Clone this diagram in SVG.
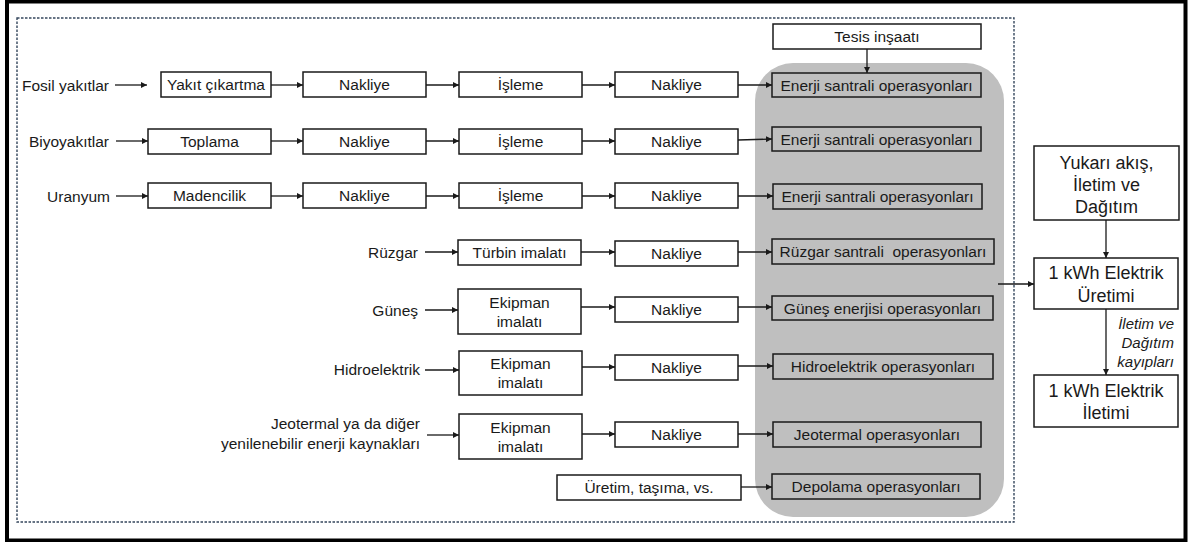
<svg xmlns="http://www.w3.org/2000/svg" width="1193" height="542" viewBox="0 0 1193 542">
  <style>
    text { font-family: "Liberation Sans", Arial, sans-serif; font-size: 15.5px; fill: #1a1a1a; }
    .c { text-anchor: middle; }
    .r { text-anchor: end; }
    .big { font-size: 18px; }
    .it { font-style: italic; font-size: 15px; text-anchor: end; }
    .box { fill: #ffffff; stroke: #1a1a1a; stroke-width: 1.5; }
    .op { fill: none; stroke: #1a1a1a; stroke-width: 1.5; }
    .link { fill: none; stroke: #1a1a1a; stroke-width: 1.3; marker-end: url(#head); }
  </style>
  <defs>
    <marker id="head" markerUnits="userSpaceOnUse" markerWidth="7" markerHeight="6" refX="6" refY="3" orient="auto">
      <path d="M0,0 L6,3 L0,6 Z" fill="#1a1a1a"/>
    </marker>
  </defs>

  <!-- frame and system boundary -->
  <rect x="7" y="1.5" width="1178.5" height="539" fill="#ffffff" stroke="#000000" stroke-width="4"/>
  <rect x="17" y="18" width="997" height="504" fill="none" stroke="#34465c" stroke-width="1.4" stroke-dasharray="2.5 1.5"/>
  <rect id="operations-area" x="755" y="63" width="249" height="454" rx="38" ry="38" fill="#bfbfbf"/>

  <!-- source labels -->
  <g id="label-fosil"><text class="r" x="109" y="90.5">Fosil yakıtlar</text></g>
  <g id="label-biyo"><text class="r" x="109" y="146.5">Biyoyakıtlar</text></g>
  <g id="label-uranyum"><text class="r" x="110" y="201.5">Uranyum</text></g>
  <g id="label-ruzgar"><text class="r" x="418" y="257.5">Rüzgar</text></g>
  <g id="label-gunes"><text class="r" x="418" y="315.5">Güneş</text></g>
  <g id="label-hidro"><text class="r" x="420" y="374.5">Hidroelektrik</text></g>
  <g id="label-jeotermal">
    <text class="r" x="420" y="428.5">Jeotermal ya da diğer</text>
    <text class="r" x="420" y="448.5">yenilenebilir enerji kaynakları</text>
  </g>

  <!-- row 1: fossil fuels -->
  <g id="yakit-cikartma"><rect class="box" x="161" y="72" width="110" height="25"/><text class="c" x="216" y="90">Yakıt çıkartma</text></g>
  <g id="nakliye-1a"><rect class="box" x="303" y="72" width="123" height="25"/><text class="c" x="364.5" y="90">Nakliye</text></g>
  <g id="isleme-1"><rect class="box" x="459" y="72" width="123" height="25"/><text class="c" x="520.5" y="90">İşleme</text></g>
  <g id="nakliye-1b"><rect class="box" x="615" y="72" width="123" height="25"/><text class="c" x="676.5" y="90">Nakliye</text></g>
  <g id="enerji-1"><rect class="op" x="772" y="73" width="209" height="24"/><text class="c" x="876.5" y="90.5">Enerji santrali operasyonları</text></g>
  <g id="tesis"><rect class="box" x="773" y="24" width="208" height="25"/><text class="c" x="877" y="42">Tesis inşaatı</text></g>

  <!-- row 2: biofuels -->
  <g id="toplama"><rect class="box" x="148" y="129" width="123" height="25"/><text class="c" x="209.5" y="147">Toplama</text></g>
  <g id="nakliye-2a"><rect class="box" x="303" y="129" width="123" height="25"/><text class="c" x="364.5" y="147">Nakliye</text></g>
  <g id="isleme-2"><rect class="box" x="459" y="129" width="123" height="25"/><text class="c" x="520.5" y="147">İşleme</text></g>
  <g id="nakliye-2b"><rect class="box" x="615" y="129" width="123" height="25"/><text class="c" x="676.5" y="147">Nakliye</text></g>
  <g id="enerji-2"><rect class="op" x="772" y="127" width="209" height="24"/><text class="c" x="876.5" y="144.5">Enerji santrali operasyonları</text></g>

  <!-- row 3: uranium -->
  <g id="madencilik"><rect class="box" x="148" y="183" width="123" height="25"/><text class="c" x="209.5" y="201">Madencilik</text></g>
  <g id="nakliye-3a"><rect class="box" x="303" y="183" width="123" height="25"/><text class="c" x="364.5" y="201">Nakliye</text></g>
  <g id="isleme-3"><rect class="box" x="459" y="183" width="123" height="25"/><text class="c" x="520.5" y="201">İşleme</text></g>
  <g id="nakliye-3b"><rect class="box" x="615" y="183" width="123" height="25"/><text class="c" x="676.5" y="201">Nakliye</text></g>
  <g id="enerji-3"><rect class="op" x="773" y="184" width="209" height="25"/><text class="c" x="877.5" y="202">Enerji santrali operasyonları</text></g>

  <!-- row 4: wind -->
  <g id="turbin"><rect class="box" x="458" y="240" width="123" height="25"/><text class="c" x="519.5" y="258">Türbin imalatı</text></g>
  <g id="nakliye-4"><rect class="box" x="615" y="241" width="123" height="25"/><text class="c" x="676.5" y="259">Nakliye</text></g>
  <g id="ruzgar-ops"><rect class="op" x="772" y="239" width="222" height="25"/><text class="c" x="883" y="257">Rüzgar santrali&#160; operasyonları</text></g>

  <!-- row 5: solar -->
  <g id="ekipman-5"><rect class="box" x="458" y="289" width="123" height="45"/><text class="c" x="519.5" y="307.5">Ekipman</text><text class="c" x="519.5" y="326.5">imalatı</text></g>
  <g id="nakliye-5"><rect class="box" x="615" y="297" width="123" height="25"/><text class="c" x="676.5" y="315">Nakliye</text></g>
  <g id="gunes-ops"><rect class="op" x="772" y="296" width="221" height="24"/><text class="c" x="882.5" y="313.5">Güneş enerjisi operasyonları</text></g>

  <!-- row 6: hydro -->
  <g id="ekipman-6"><rect class="box" x="459" y="351" width="123" height="44"/><text class="c" x="520.5" y="369">Ekipman</text><text class="c" x="520.5" y="388">imalatı</text></g>
  <g id="nakliye-6"><rect class="box" x="615" y="355" width="123" height="25"/><text class="c" x="676.5" y="373">Nakliye</text></g>
  <g id="hidro-ops"><rect class="op" x="773" y="354" width="220" height="25"/><text class="c" x="883" y="372">Hidroelektrik operasyonları</text></g>

  <!-- row 7: geothermal and other renewables -->
  <g id="ekipman-7"><rect class="box" x="459" y="414" width="123" height="45"/><text class="c" x="520.5" y="432.5">Ekipman</text><text class="c" x="520.5" y="451.5">imalatı</text></g>
  <g id="nakliye-7"><rect class="box" x="615" y="422" width="123" height="25"/><text class="c" x="676.5" y="440">Nakliye</text></g>
  <g id="jeotermal-ops"><rect class="op" x="773" y="422" width="208" height="25"/><text class="c" x="877" y="440">Jeotermal operasyonları</text></g>

  <!-- row 8: storage -->
  <g id="uretim-tasima"><rect class="box" x="557" y="475" width="184" height="25"/><text class="c" x="649" y="493">Üretim, taşıma, vs.</text></g>
  <g id="depolama-ops"><rect class="op" x="772" y="474" width="208" height="25"/><text class="c" x="876" y="492">Depolama operasyonları</text></g>

  <!-- grid side -->
  <g id="yukari-akis"><rect class="box" x="1034" y="146" width="145" height="74"/>
    <text class="c big" x="1106.5" y="168.5">Yukarı akış,</text>
    <text class="c big" x="1106.5" y="190.5">İletim ve</text>
    <text class="c big" x="1106.5" y="212.5">Dağıtım</text>
  </g>
  <g id="kwh-uretim"><rect class="box" x="1034" y="258" width="144" height="51"/>
    <text class="c big" x="1106" y="279">1 kWh Elektrik</text>
    <text class="c big" x="1106" y="301.5">Üretimi</text>
  </g>
  <g id="kayiplar">
    <text class="it" x="1174" y="329">İletim ve</text>
    <text class="it" x="1174" y="348">Dağıtım</text>
    <text class="it" x="1174" y="367">kayıpları</text>
  </g>
  <g id="kwh-iletim"><rect class="box" x="1034" y="375" width="144" height="52"/>
    <text class="c big" x="1106" y="396.5">1 kWh Elektrik</text>
    <text class="c big" x="1106" y="419">İletimi</text>
  </g>

  <!-- connectors -->
  <g id="connectors">
    <line class="link" x1="115" y1="85" x2="147" y2="85"/>
    <line class="link" x1="271" y1="85" x2="303" y2="85"/>
    <line class="link" x1="426" y1="85" x2="459" y2="85"/>
    <line class="link" x1="582" y1="85" x2="615" y2="85"/>
    <line class="link" x1="738" y1="85" x2="772" y2="85"/>
    <line class="link" x1="867" y1="49" x2="867" y2="73"/>

    <line class="link" x1="116" y1="141" x2="148" y2="141"/>
    <line class="link" x1="271" y1="141" x2="303" y2="141"/>
    <line class="link" x1="426" y1="141" x2="459" y2="141"/>
    <line class="link" x1="582" y1="141" x2="615" y2="141"/>
    <line class="link" x1="738" y1="140" x2="772" y2="139"/>

    <line class="link" x1="116" y1="196" x2="148" y2="196"/>
    <line class="link" x1="271" y1="196" x2="303" y2="196"/>
    <line class="link" x1="426" y1="196" x2="459" y2="196"/>
    <line class="link" x1="582" y1="196" x2="615" y2="196"/>
    <line class="link" x1="738" y1="196" x2="773" y2="196"/>

    <line class="link" x1="425" y1="252" x2="458" y2="252"/>
    <line class="link" x1="581" y1="252" x2="615" y2="252"/>
    <line class="link" x1="738" y1="252" x2="772" y2="252"/>

    <line class="link" x1="425" y1="310" x2="458" y2="310"/>
    <line class="link" x1="581" y1="307" x2="615" y2="307"/>
    <line class="link" x1="738" y1="307" x2="772" y2="307"/>

    <line class="link" x1="425" y1="370" x2="459" y2="370"/>
    <line class="link" x1="582" y1="367" x2="615" y2="367"/>
    <line class="link" x1="738" y1="366" x2="773" y2="366"/>

    <line class="link" x1="427" y1="435" x2="459" y2="435"/>
    <line class="link" x1="582" y1="434" x2="615" y2="434"/>
    <line class="link" x1="738" y1="434" x2="773" y2="434"/>

    <line class="link" x1="741" y1="487" x2="772" y2="487"/>

    <line class="link" x1="998" y1="284" x2="1034" y2="284"/>
    <line class="link" x1="1106" y1="220" x2="1106" y2="258"/>
    <line class="link" x1="1106" y1="309" x2="1106" y2="375"/>
  </g>
</svg>
